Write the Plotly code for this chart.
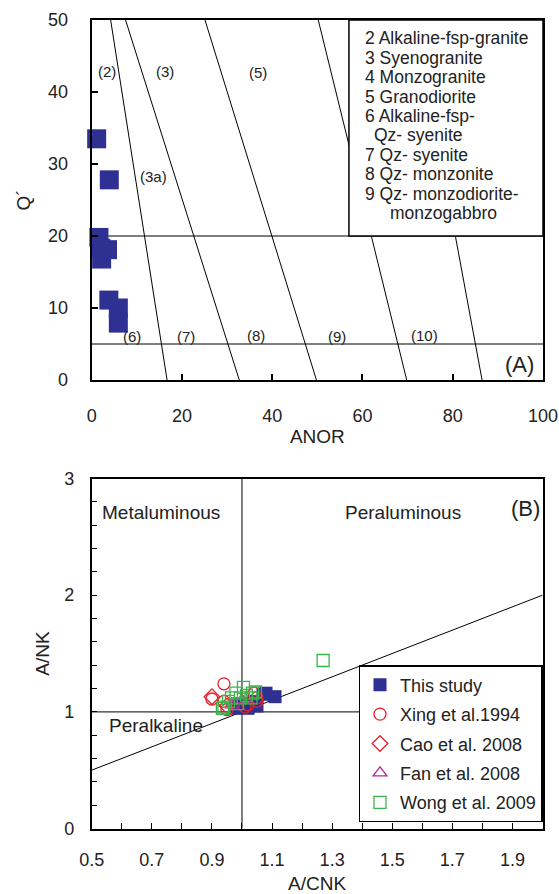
import plotly.graph_objects as go

W, H = 559, 894
FONT = "Liberation Sans, Arial, sans-serif"

# ---------------- Panel A: Q' - ANOR ----------------
study_anor = [1.1, 3.9, 1.6, 3.5, 2.0, 2.2, 3.8, 5.9, 5.9]
study_q = [33.5, 27.8, 19.8, 18.1, 18.3, 16.8, 11.1, 10.0, 7.9]

# field boundaries: ANOR at Q'=50 and at Q'=0
bound_top = [4.2, 7.5, 25.1, 50.2, 71.7]
bound_bot = [16.7, 32.7, 49.8, 69.8, 86.5]
hlines_q = [20, 5]

field_labels = ["(2)", "(3)", "(5)", "(3a)", "(6)", "(7)", "(8)", "(9)", "(10)"]
field_x = [3.3, 16.2, 36.9, 13.8, 9.0, 20.9, 36.3, 54.3, 73.7]
field_y = [42.8, 42.8, 42.7, 28.2, 6.0, 6.0, 6.2, 6.0, 6.2]

key_lines = ["2 Alkaline-fsp-granite", "3 Syenogranite", "4 Monzogranite",
             "5 Granodiorite", "6 Alkaline-fsp-", "Qz- syenite",
             "7 Qz- syenite", "8 Qz- monzonite", "9 Qz- monzodiorite-",
             "monzogabbro"]
key_x = [60.1, 60.1, 60.1, 60.1, 60.1, 62.2, 60.1, 60.1, 60.1, 65.6]
key_box = [57, 100, 20, 50]

# ---------------- Panel B: A/NK - A/CNK ----------------
b_study_x = [1.11, 1.08, 1.07, 1.05, 1.04, 1.02, 1.00, 0.98, 1.02, 0.99]
b_study_y = [1.13, 1.16, 1.15, 1.05, 1.09, 1.04, 1.07, 1.03, 1.03, 1.06]
xing_x = [0.94, 0.90, 0.95, 0.94, 1.01, 1.02, 1.05, 1.05, 1.04]
xing_y = [1.24, 1.11, 1.02, 1.09, 1.04, 1.06, 1.09, 1.12, 1.16]
cao_x = [0.90, 0.95]
cao_y = [1.13, 1.05]
fan_x = [0.965, 1.00]
fan_y = [1.06, 1.10]
wong_x = [1.27, 1.005, 0.98, 0.965, 0.94, 1.035, 1.045, 1.015, 0.995, 0.955, 0.985, 0.935, 1.03]
wong_y = [1.44, 1.21, 1.16, 1.12, 1.04, 1.16, 1.17, 1.14, 1.12, 1.09, 1.07, 1.03, 1.12]

NAVY = "#2E3192"
RED = "#E8202A"
MAG = "#B5289E"
GREEN = "#3AB54A"

fig = go.Figure()

# Panel A
fig.add_trace(go.Scatter(x=study_anor, y=study_q, mode="markers", xaxis="x", yaxis="y",
                         marker=dict(symbol="square", size=19, color=NAVY, line=dict(width=0)),
                         cliponaxis=False, showlegend=False))

# Panel B traces (drawing order: study first, others on top)
def add_b(x, y, name, symbol, color, size, rank, lw=0):
    fig.add_trace(go.Scatter(
        x=x, y=y, mode="markers", xaxis="x2", yaxis="y2", name=name,
        legendgroup=name, legendrank=rank,
        marker=dict(symbol=symbol, size=size, color=color, line=dict(width=lw, color=color)),
        cliponaxis=False))

add_b(b_study_x, b_study_y, "This study", "square", NAVY, 13, 1)
add_b(xing_x, xing_y, "Xing et al.1994", "circle-open", RED, 12, 2, 1.3)
add_b(cao_x, cao_y, "Cao et al. 2008", "diamond-open", RED, 12, 3, 1.3)
add_b(fan_x, fan_y, "Fan et al. 2008", "triangle-up-open", MAG, 12, 4, 1.3)
add_b(wong_x, wong_y, "Wong et al. 2009", "square-open", GREEN, 12, 5, 1.3)

shapes = []
# Panel A boundary lines
for xt, xb in zip(bound_top, bound_bot):
    shapes.append(dict(type="line", xref="x", yref="y", x0=xt, y0=50, x1=xb, y1=0,
                       line=dict(color="black", width=1), layer="below"))
for q in hlines_q:
    shapes.append(dict(type="line", xref="x", yref="y", x0=0, y0=q, x1=100, y1=q,
                       line=dict(color="black", width=1.2 if q == 20 else 1), layer="below"))
shapes.append(dict(type="rect", xref="x", yref="y", x0=key_box[0], x1=key_box[1],
                   y0=key_box[2], y1=key_box[3], fillcolor="white",
                   line=dict(color="black", width=1.5), layer="above"))
# Panel B lines
shapes.append(dict(type="line", xref="x2", yref="y2", x0=1.0, y0=0, x1=1.0, y1=3,
                   line=dict(color="#555555", width=1.5), layer="below"))
shapes.append(dict(type="line", xref="x2", yref="y2", x0=0.5, y0=1, x1=2.0, y1=1,
                   line=dict(color="#333333", width=1.2), layer="below"))
shapes.append(dict(type="line", xref="x2", yref="y2", x0=0.5, y0=0.5, x1=2.0, y1=2.0,
                   line=dict(color="black", width=1), layer="below"))

ann = []
for t, x, y in zip(field_labels, field_x, field_y):
    ann.append(dict(text=t, x=x, y=y, xref="x", yref="y", showarrow=False,
                    font=dict(size=15, color="#222"), xanchor="center", yanchor="middle"))
ann.append(dict(text="(A)", x=94.9, y=2.1, xref="x", yref="y", showarrow=False,
                font=dict(size=22, color="#222"), xanchor="center", yanchor="middle"))
key_top_px = 38.3
for i, (t, kx) in enumerate(zip(key_lines, key_x)):
    ypx = key_top_px + i * 19.4
    ann.append(dict(text=t, x=kx, y=(380 - ypx) / 7.2, xref="x", yref="y", showarrow=False,
                    font=dict(size=17.5, color="#222"), xanchor="left", yanchor="middle"))

b_labels = ["Metaluminous", "Peraluminous", "Peralkaline"]
b_lx = [0.73, 1.537, 0.714]
b_ly = [2.706, 2.706, 0.887]
for t, x, y in zip(b_labels, b_lx, b_ly):
    ann.append(dict(text=t, x=x, y=y, xref="x2", yref="y2", showarrow=False,
                    font=dict(size=19, color="#222"), xanchor="center", yanchor="middle"))
ann.append(dict(text="(B)", x=1.942, y=2.744, xref="x2", yref="y2", showarrow=False,
                font=dict(size=22, color="#222"), xanchor="center", yanchor="middle"))

axis_common = dict(showline=True, linecolor="black", mirror=True, showgrid=False,
                   zeroline=False, ticks="inside", tickcolor="black", automargin=False,
                   tickfont=dict(size=18, color="#222"))

fig.update_layout(
    width=W, height=H, margin=dict(l=0, r=0, t=0, b=0, autoexpand=False),
    paper_bgcolor="white", plot_bgcolor="white",
    font=dict(family=FONT, color="#222"),
    shapes=shapes, annotations=ann,
    xaxis=dict(domain=[91.7 / W, 543 / W], anchor="y", range=[0, 100],
               tickvals=[0, 20, 40, 60, 80, 100], ticklen=6, tickwidth=1.5, linewidth=2,
               ticklabelstandoff=18,
               title=dict(text="ANOR", font=dict(size=19), standoff=5), **axis_common),
    yaxis=dict(domain=[1 - 380 / H, 1 - 20 / H], anchor="x", range=[0, 50],
               tickvals=[0, 10, 20, 30, 40, 50], ticklen=6, tickwidth=1.5, linewidth=2,
               ticklabelstandoff=18,
               title=dict(text="Q´", font=dict(size=19), standoff=12), **axis_common),
    xaxis2=dict(domain=[91.7 / W, 542.5 / W], anchor="y2", range=[0.5, 2.0],
                tick0=0.5, dtick=0.2, ticklen=6, tickwidth=1.2, linewidth=1.5,
                minor=dict(dtick=0.1, ticks="inside", ticklen=6, tickcolor="black", tickwidth=1.2),
                ticklabelstandoff=14,
                title=dict(text="A/CNK", font=dict(size=19), standoff=8), **axis_common),
    yaxis2=dict(domain=[1 - 828.5 / H, 1 - 478.5 / H], anchor="x2", range=[0, 3],
                tick0=0, dtick=1, ticklen=6, tickwidth=1.2, linewidth=1.5,
                minor=dict(dtick=0.2, ticks="inside", ticklen=6, tickcolor="black", tickwidth=1.2),
                ticklabelstandoff=12,
                title=dict(text="A/NK", font=dict(size=19), standoff=10), **axis_common),
    legend=dict(x=542.5 / W, xanchor="right", y=1 - 665 / H, yanchor="top",
                bgcolor="white", bordercolor="black", borderwidth=1.5,
                font=dict(size=18, color="#222"), tracegroupgap=3,
                itemsizing="trace"),
    showlegend=True,
)

fig.write_html("out.html")
